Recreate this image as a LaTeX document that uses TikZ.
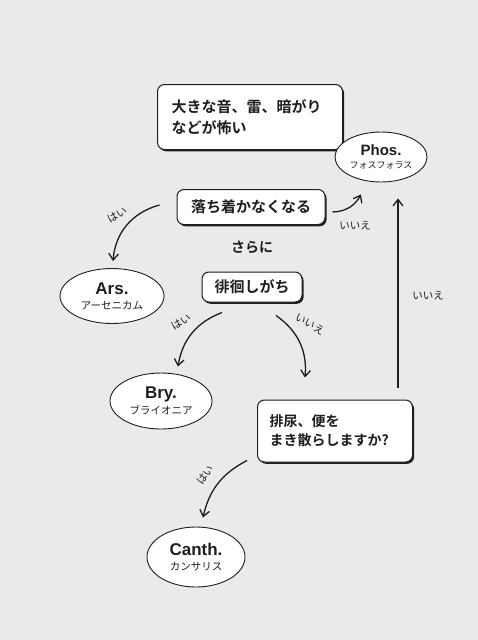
\documentclass[tikz,border=0pt]{standalone}
\usepackage{fontspec}
\usepackage{tikz}
\usetikzlibrary{arrows.meta,shapes.geometric,shadows,backgrounds}
\newfontfamily\jpfont{Noto Sans CJK JP}
\newfontfamily\jpbold{Noto Sans CJK JP Bold}
\newfontfamily\latbold{Liberation Sans Bold}
\definecolor{paper}{RGB}{234,234,232}
\definecolor{ink}{RGB}{30,30,30}

\begin{document}
\begin{tikzpicture}[x=1pt,y=-1pt,every node/.style={text=ink},
  qbox/.style={draw=ink,line width=1pt,fill=white,rounded corners=7pt,
    drop shadow={shadow xshift=1.6pt,shadow yshift=-1.8pt,opacity=1,fill=ink},
    font=\jpbold\fontsize{15}{21}\selectfont,inner sep=0pt},
  remedy/.style={ellipse,draw=ink,line width=0.9pt,fill=white,inner sep=0pt,align=center},
  arr/.style={ink,line width=1.3pt,-{Straight Barb[angle=75:8pt]}},
  ans/.style={font=\jpfont\fontsize{10.5}{12}\selectfont}]
  \fill[paper] (0,0) rectangle (478,640);
  \useasboundingbox (0,0) rectangle (478,640);
  % questions
  \node[qbox,minimum width=185,minimum height=65,text width=157,align=left] (fear) at (250,117) {大きな音、雷、暗がり\\などが怖い};
  \node[qbox,minimum width=148,minimum height=35] (calm) at (251,207) {落ち着かなくなる};
  \node[font=\jpbold\fontsize{14}{16}\selectfont] (more) at (252,247) {さらに};
  \node[qbox,minimum width=100,minimum height=30] (wander) at (252,287) {徘徊しがち};
  \node[qbox,minimum width=155,minimum height=62,text width=131,align=left,font=\jpbold\fontsize{14}{19}\selectfont] (pee) at (335,431) {排尿、便を\\まき散らしますか?};
  % remedies
  \node[remedy,minimum width=92,minimum height=50] (phos) at (381,157) {{\latbold\fontsize{15}{17}\selectfont Phos.}\\[1pt]{\jpfont\fontsize{9}{10}\selectfont フォスフォラス}};
  \node[remedy,minimum width=104,minimum height=55] (ars) at (112,296) {{\latbold\fontsize{17}{19}\selectfont Ars.}\\[3pt]{\jpfont\fontsize{10.5}{12}\selectfont アーセニカム}};
  \node[remedy,minimum width=102,minimum height=56] (bry) at (161,401) {{\latbold\fontsize{17}{19}\selectfont Bry.}\\[3pt]{\jpfont\fontsize{10.5}{12}\selectfont ブライオニア}};
  \node[remedy,minimum width=98,minimum height=60] (canth) at (196,557) {{\latbold\fontsize{17}{19}\selectfont Canth.}\\[3pt]{\jpfont\fontsize{10.5}{12}\selectfont カンサリス}};
  % arrows
  \draw[arr] ([shift={(-17,-2)}]calm.west) to[bend right=35] ([shift={(1,-7)}]ars.north);
  \draw[arr] ([shift={(7,5)}]calm.east) to[bend right=30] ([shift={(-20,12)}]phos.south);
  \draw[arr] ([shift={(-30,10)}]wander.south) to[bend right=30] ([shift={(17,-6)}]bry.north);
  \draw[arr] ([shift={(24,13)}]wander.south) to[bend left=30] ([shift={(-30,-22)}]pee.north);
  \draw[arr] ([shift={(-10,-2)}]pee.south west) to[bend right=25] ([shift={(7,-9)}]canth.north);
  \draw[arr] ([shift={(63,-12)}]pee.north) -- ([shift={(17,16)}]phos.south);
  % answers
  \node[ans,rotate=30] (y1) at (117,215) {はい};
  \node[ans] (n1) at (355,226) {いいえ};
  \node[ans,rotate=30] (y2) at (181,322) {はい};
  \node[ans,rotate=-30] (n2) at (310,324) {いいえ};
  \node[ans] (n3) at (428,296) {いいえ};
  \node[ans,rotate=55] (y3) at (205,475) {はい};
\end{tikzpicture}
\end{document}
